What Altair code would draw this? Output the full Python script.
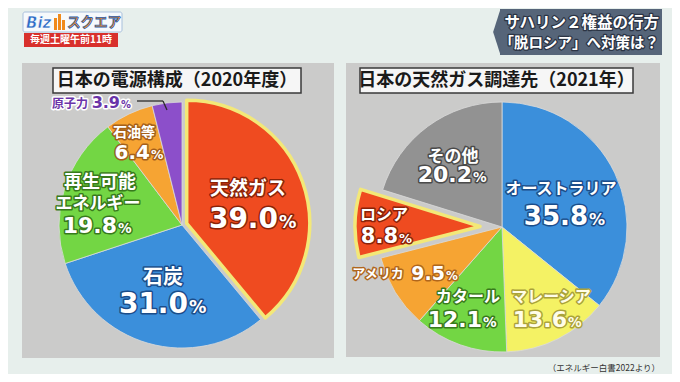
import math
import altair as alt
import pandas as pd

# ---------------- data ----------------
POWER_SOURCES = ["天然ガス", "石炭", "再生可能エネルギー", "石油等", "原子力"]
POWER_SHARE = [39.0, 31.0, 19.8, 6.4, 3.9]

GAS_SUPPLIERS = ["オーストラリア", "マレーシア", "カタール", "アメリカ", "ロシア", "その他"]
GAS_SHARE = [35.8, 13.6, 12.1, 9.5, 8.8, 20.2]

LEFT_TITLE = "日本の電源構成（2020年度）"
RIGHT_TITLE = "日本の天然ガス調達先（2021年）"
BANNER_LINES = ["サハリン２権益の行方", "「脱ロシア」へ対策は？"]
LOGO_LEFT = "Biz"
LOGO_RIGHT = "スクエア"
LOGO_TIME = "毎週土曜午前11時"
SOURCE_NOTE = "（エネルギー白書2022より）"

# ---------------- styles / layout ----------------
JP = "Noto Sans CJK JP"
NUM = "DejaVu Sans"
RED, BLUE, GREEN, ORANGE, PURPLE, YELLOW, GRAY = (
    "#ef4b20", "#3b8fdb", "#73d644", "#f6a433", "#8c4fca", "#f4f264", "#929292")
POWER_COLORS = [RED, BLUE, GREEN, ORANGE, PURPLE]
GAS_COLORS = [BLUE, YELLOW, GREEN, ORANGE, RED, GRAY]

W, H = 664, 366
BG = "#e7efec"
PANEL = "#cbcbca"

LEFT_PIE = dict(cx=174, cy=217, r=123, highlight="天然ガス", explode=5)
RIGHT_PIE = dict(cx=494, cy=219, r=125, highlight="ロシア", explode=22)

LINE_BREAKS = {"再生可能エネルギー": 4}

# label layout per category: name line centres, number anchor (right edge of digits, baseline)
LEFT_LABELS = {
    "天然ガス": dict(names=[(240, 181, 19)], num=(270, 220, 28), outline="#8a2208"),
    "石炭": dict(names=[(155, 270, 20)], num=(180, 305, 28), outline="#1b4d8a"),
    "再生可能エネルギー": dict(names=[(92, 175, 18), (90, 196, 17)], num=(109, 225, 22), outline="#387a1c"),
    "石油等": dict(names=[(126, 125, 14)], num=(142, 151, 20), outline="#a5601a"),
    "原子力": dict(names=[(62, 96, 12)], num=(112, 100, 16), outline="#ffffff", fill="#6a34a8"),
}
RIGHT_LABELS = {
    "オーストラリア": dict(names=[(553, 181, 16)], num=(580, 217, 26), outline="#1b4d8a"),
    "マレーシア": dict(names=[(543, 289, 16)], num=(559, 319, 22), outline="#aaa23a", fill="#fffde8"),
    "カタール": dict(names=[(460, 289, 16)], num=(474, 319, 22), outline="#387a1c"),
    "アメリカ": dict(names=[(370, 266, 13)], num=(437, 272, 19), outline="#b0661c"),
    "ロシア": dict(names=[(376, 207, 16)], num=(390, 235, 21), outline="#8a2208"),
    "その他": dict(names=[(445, 149, 17)], num=(464, 174, 22), outline="#4a4a4a"),
}

DUMMY = alt.Data(values=[{}])


def rect(x1, y1, x2, y2, **kw):
    return alt.Chart(DUMMY).mark_rect(**kw).encode(
        x=alt.value(x1), x2=alt.value(x2), y=alt.value(y1), y2=alt.value(y2))


def text(s, x, y, **kw):
    kw.setdefault("font", JP)
    kw.setdefault("fontWeight", "bold")
    return alt.Chart(DUMMY).mark_text(text=s, **kw).encode(x=alt.value(x), y=alt.value(y))


def rule(x1, y1, x2, y2, **kw):
    return alt.Chart(DUMMY).mark_rule(**kw).encode(
        x=alt.value(x1), x2=alt.value(x2), y=alt.value(y1), y2=alt.value(y2))


def pie_layers(cats, vals, colors, cx, cy, r, highlight, explode):
    df = pd.DataFrame({"category": cats, "value": vals, "order": list(range(len(cats)))})
    base = (alt.Chart(df)
            .transform_joinaggregate(total="sum(value)")
            .transform_window(cum="sum(value)", sort=[alt.SortField("order")])
            .transform_calculate(start="(datum.cum - datum.value) / datum.total",
                                 end="datum.cum / datum.total",
                                 mid="(datum.cum - datum.value / 2) / datum.total"))
    theta = alt.Theta("start:Q", scale=alt.Scale(domain=[0, 1], range=[0, 2 * math.pi]))
    color = alt.Color("category:N", scale=alt.Scale(domain=cats, range=colors), legend=None)
    main = (base.transform_filter(alt.datum.category != highlight)
            .mark_arc(radius=r, stroke="#dadada", strokeWidth=0.8)
            .encode(theta=theta, theta2="end:Q", color=color,
                    x=alt.value(cx), y=alt.value(cy)))
    hl = (base.transform_filter(alt.datum.category == highlight)
          .transform_calculate(ex=f"{cx} + {explode} * sin(2 * PI * datum.mid)",
                               ey=f"{cy} - {explode} * cos(2 * PI * datum.mid)")
          .mark_arc(radius=r, stroke="#f3e878", strokeWidth=3.5, strokeJoin="round")
          .encode(theta=theta, theta2="end:Q", color=color,
                  x=alt.X("ex:Q", scale=None, axis=None),
                  y=alt.Y("ey:Q", scale=None, axis=None)))
    return [main, hl]


def label_tables(cats, vals, layout):
    names, nums = [], []
    for cat, v in zip(cats, vals):
        spec = layout[cat]
        brk = LINE_BREAKS.get(cat)
        lines = [cat[:brk], cat[brk:]] if brk else [cat]
        fill = spec.get("fill", "#ffffff")
        for line, (x, y, s) in zip(lines, spec["names"]):
            names.append(dict(text=line, x=x, y=y, size=s, fill=fill, outline=spec["outline"]))
        nx, ny, ns = spec["num"]
        nums.append(dict(text=f"{v:.1f}", pct="%", x=nx, xp=nx + 1, y=ny, size=ns,
                         psize=round(ns * 0.62, 1), fill=fill, outline=spec["outline"]))
    return pd.DataFrame(names), pd.DataFrame(nums)


def label_layers(names, nums):
    out = []
    for stroke in (True, False):
        extra = dict(stroke=alt.Stroke("outline:N", scale=None)) if stroke else {}
        mk = dict(strokeWidth=3, strokeJoin="round") if stroke else {}
        out.append(alt.Chart(names).mark_text(font=JP, fontWeight="bold", align="center",
                                               baseline="middle", **mk).encode(
            x=alt.X("x:Q", scale=None, axis=None), y=alt.Y("y:Q", scale=None, axis=None),
            text="text:N", size=alt.Size("size:Q", scale=None, legend=None),
            color=alt.Color("fill:N", scale=None), **extra))
        out.append(alt.Chart(nums).mark_text(font=NUM, fontWeight="bold", align="right",
                                              baseline="alphabetic", **mk).encode(
            x=alt.X("x:Q", scale=None, axis=None), y=alt.Y("y:Q", scale=None, axis=None),
            text="text:N", size=alt.Size("size:Q", scale=None, legend=None),
            color=alt.Color("fill:N", scale=None), **extra))
        out.append(alt.Chart(nums).mark_text(font=NUM, fontWeight="bold", align="left",
                                              baseline="alphabetic", **mk).encode(
            x=alt.X("xp:Q", scale=None, axis=None), y=alt.Y("y:Q", scale=None, axis=None),
            text="pct:N", size=alt.Size("psize:Q", scale=None, legend=None),
            color=alt.Color("fill:N", scale=None), **extra))
    return out


layers = []

# logo (top-left)
layers.append(rect(15, 4, 114, 24, fill="#f6f9fc", stroke="#a9c0dc", strokeWidth=1, cornerRadius=2))
layers.append(text(LOGO_LEFT, 18, 15, align="left", baseline="middle", fontSize=15,
                   fontStyle="italic", font=NUM, fill="#2e6cc6", stroke="#ffffff", strokeWidth=0.5))
layers.append(rect(46, 10, 49, 22, fill="#f08a1c"))
layers.append(rect(50, 6, 53, 22, fill="#f08a1c"))
layers.append(rect(54, 12, 57, 22, fill="#f08a1c"))
layers.append(text(LOGO_RIGHT, 59, 15, align="left", baseline="middle", fontSize=13.5,
                   fill="#f28c1e", stroke="#2a5fb0", strokeWidth=0.8))
layers.append(rect(16, 25, 110, 39, fill="#d8302c"))
layers.append(text(LOGO_TIME, 63, 32, align="center", baseline="middle", fontSize=10, fill="#ffffff"))

# title banner (top-right)
layers.append(rect(492, 1, 654, 47, fill="#566579"))
layers.append(alt.Chart(DUMMY).mark_point(
    shape="M0,-1L-0.32,0L0,1Z", filled=True, fill="#566579", opacity=1, size=2116, strokeWidth=0
).encode(x=alt.value(492.5), y=alt.value(24)))
for line, (y, fs) in zip(BANNER_LINES, [(15, 15.5), (36, 14.5)]):
    layers.append(text(line, 651, y, align="right", baseline="middle", fontSize=fs,
                       fill="#ffffff", stroke="#2b3444", strokeWidth=2.5, strokeJoin="round"))
    layers.append(text(line, 651, y, align="right", baseline="middle", fontSize=fs, fill="#ffffff"))

# panels
layers.append(rect(14, 55, 326, 350, fill=PANEL))
layers.append(rect(338, 55, 652, 349, fill=PANEL))

# panel titles
layers.append(rect(45, 60, 293, 85, fill="#f6f6f6", stroke="#3a3a3a", strokeWidth=1.5))
layers.append(text(LEFT_TITLE, 169, 73, align="center", baseline="middle", fontSize=18, fill="#1a1a1a"))
layers.append(rect(352, 60, 625, 85, fill="#f6f6f6", stroke="#3a3a3a", strokeWidth=1.5))
layers.append(text(RIGHT_TITLE, 488.5, 73, align="center", baseline="middle", fontSize=18, fill="#1a1a1a"))

# pies
layers += pie_layers(POWER_SOURCES, POWER_SHARE, POWER_COLORS, **LEFT_PIE)
layers += pie_layers(GAS_SUPPLIERS, GAS_SHARE, GAS_COLORS, **RIGHT_PIE)

# leader line for the small slice
layers.append(rule(129, 93, 155, 93, stroke="#2a2a2a", strokeWidth=1.3))
layers.append(rule(155, 93, 159, 102, stroke="#2a2a2a", strokeWidth=1.3))

# labels
ln, lnum = label_tables(POWER_SOURCES, POWER_SHARE, LEFT_LABELS)
rn, rnum = label_tables(GAS_SUPPLIERS, GAS_SHARE, RIGHT_LABELS)
layers += label_layers(ln, lnum)
layers += label_layers(rn, rnum)

# source note
layers.append(text(SOURCE_NOTE, 652, 360, align="right", baseline="middle", fontSize=8.5,
                   fontWeight="normal", fill="#333333"))

chart = (alt.layer(*layers)
         .resolve_scale(color="independent", theta="independent")
         .properties(width=W, height=H, background=BG, padding=0,
                     autosize=alt.AutoSizeParams(type="none"))
         .configure_view(stroke=None))

chart.save("out.html", embed_options={"renderer": "svg", "actions": False})
